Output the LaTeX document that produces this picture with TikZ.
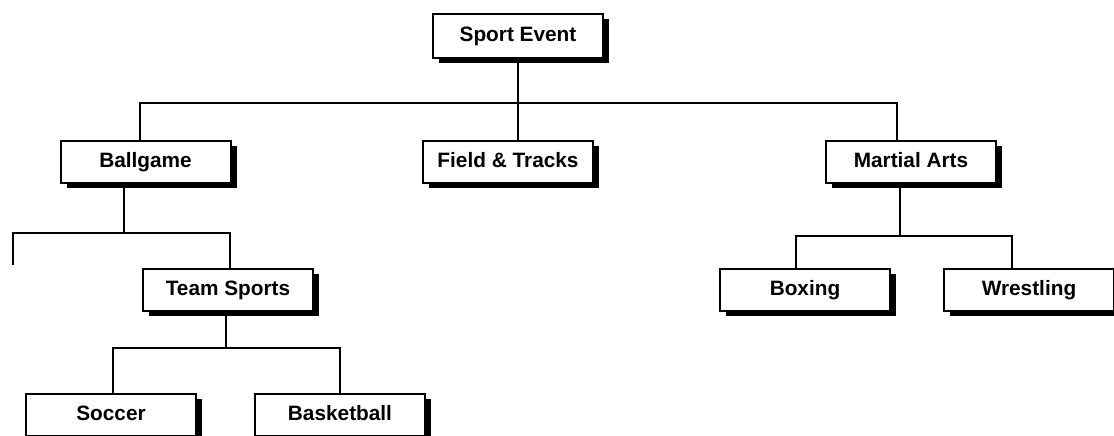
\documentclass[tikz,border=0pt]{standalone}
\usepackage{fontspec}
\setmainfont{Liberation Sans}
\usepackage{tikz}
\usetikzlibrary{shadows}

\begin{document}
\begin{tikzpicture}[x=1pt,y=-1pt,line width=2pt,font=\fontsize{20.8}{25}\selectfont\bfseries]
  \tikzstyle{box}=[draw,fill=white,minimum width=170pt,minimum height=42pt,inner sep=0pt,
    text height=11pt,text depth=0pt,
    drop shadow={shadow xshift=6pt,shadow yshift=-5pt,fill=black,opacity=1}]
  \useasboundingbox (0,0) rectangle (1114,436);
  % top level
  \node[box,minimum height=44pt] (se) at (518,36) {Sport Event};
  \node[box] (bg) at (145.5,161.5) {Ballgame};
  \node[box] (ft) at (508,161.5) {Field \& Tracks};
  \node[box] (ma) at (911,161.5) {Martial Arts};
  % lower levels
  \node[box] (ts) at (228,289.5) {Team Sports};
  \node[box] (bx) at (805,290) {Boxing};
  \node[box] (wr) at (1029,290) {Wrestling};
  \node[box] (sc) at (111,415) {Soccer};
  \node[box] (bb) at (340,415) {Basketball};
  % bus lines
  \coordinate (b1) at (518,103);
  \coordinate (b2) at (124,233);
  \coordinate (b3) at (226,348);
  \coordinate (b4) at (900,236);
  \coordinate (lb) at (13,265);
  \draw (se.south) -- ([xshift=10pt]ft.north);
  \draw ([xshift=-5.5pt]bg.north) |- (b1) -| ([xshift=-14pt]ma.north);
  \draw (bg.south -| b2) -- (b2);
  \draw (lb) |- (b2) -| ([xshift=2pt]ts.north);
  \draw (ts.south -| b3) -- (b3);
  \draw ([xshift=2pt]sc.north) |- (b3) -| (bb.north);
  \draw (ma.south -| b4) -- (b4);
  \draw ([xshift=-9pt]bx.north) |- (b4) -| ([xshift=-17pt]wr.north);
\end{tikzpicture}
\end{document}
